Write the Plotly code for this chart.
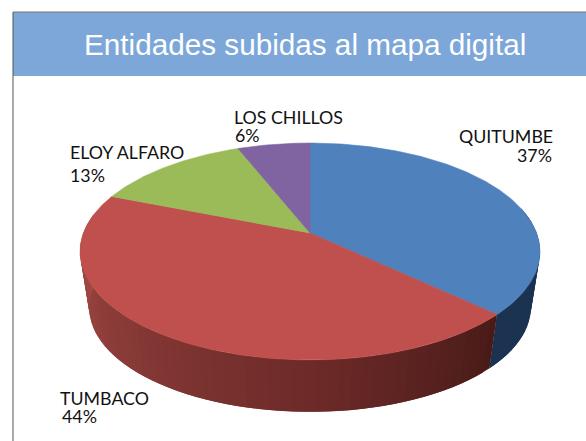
import math
import plotly.graph_objects as go

categories = ["QUITUMBE", "TUMBACO", "ELOY ALFARO", "LOS CHILLOS"]
values = [37, 44, 13, 6]
percent_labels = ["37%", "44%", "13%", "6%"]
title_text = "Entidades subidas al mapa digital"

top_colors = ["#4f81bd", "#c0504d", "#9bbb59", "#8064a2"]

# Projection of the tilted disc (circle seen in perspective)
CX, CY, A, B, K = 310.0, 233.0, 226.6, 105.3, 0.1705
WALL_SCALE, WALL_CY = 0.96, 290.0


def project(deg, scale=1.0, cy=CY):
    t = math.radians(deg)
    u, v = math.sin(t), -math.cos(t)
    w = 1 - K * v
    return CX + scale * A * u / w, cy + scale * B * v / w


def mix(c1, c2, f):
    return "rgb(%d,%d,%d)" % tuple(round(a + (b - a) * f) for a, b in zip(c1, c2))


fig = go.Figure()


def polygon(xs, ys, color, width=0.6):
    fig.add_trace(go.Scatter(
        x=xs, y=ys, mode="lines", fill="toself", fillcolor=color,
        line=dict(color=color, width=width), hoverinfo="skip", showlegend=False,
    ))


total = sum(values)
edges = [0.0]
for val in values:
    edges.append(edges[-1] + 360.0 * val / total)

WALL_START = 76.0
WALL_END = 280.0
WALL_STEP = 2.5


def wall_color(index, deg):
    if index == 0:
        return "rgb(27,51,80)"
    f = (deg - edges[1]) / (WALL_END - edges[1])
    dark, mid, light = (72, 27, 24), (110, 43, 41), (166, 76, 71)
    if f < 0.33:
        return mix(dark, mid, f / 0.33)
    return mix(mid, light, (f - 0.33) / 0.67)


# Side wall: each quad is two steps wide and the next quad paints over its
# second half, so no seams show between neighbouring bands.
for index in (0, 1):
    start = max(edges[index], WALL_START)
    end = min(edges[index + 1], WALL_END)
    count = max(1, int((end - start) / WALL_STEP))
    step = (end - start) / count
    for n in range(count):
        a0 = start + step * n
        a1 = min(a0 + 2 * step, end)
        p0, p1 = project(a0), project(a1)
        q0 = project(a0, WALL_SCALE, WALL_CY)
        q1 = project(a1, WALL_SCALE, WALL_CY)
        polygon([p0[0], p1[0], q1[0], q0[0], p0[0]],
                [p0[1], p1[1], q1[1], q0[1], p0[1]],
                wall_color(index, a0 + step / 2), width=0)

# Top face slices
for i, color in enumerate(top_colors):
    a0, a1 = edges[i], edges[i + 1]
    steps = max(4, int((a1 - a0) * 1.5))
    pts = [project(a0 + (a1 - a0) * s / steps) for s in range(steps + 1)]
    xs = [CX] + [p[0] for p in pts] + [CX]
    ys = [CY] + [p[1] for p in pts] + [CY]
    polygon(xs, ys, color)

label_layout = [
    (458, 136, "left", categories[0]),
    (553, 155, "right", percent_labels[0]),
    (59, 398, "left", categories[1]),
    (61, 416, "left", percent_labels[1]),
    (69, 152, "left", categories[2]),
    (69, 175, "left", percent_labels[2]),
    (233, 117, "left", categories[3]),
    (234, 135, "left", percent_labels[3]),
]
annotations = [
    dict(x=x, y=y, xref="x", yref="y", text=t, showarrow=False, xanchor=anc,
         yanchor="middle", borderpad=0,
         font=dict(family="Lato", size=17.8, color="#111111"))
    for x, y, anc, t in label_layout
]
annotations.append(dict(
    x=305, y=44, xref="x", yref="y", text=title_text, showarrow=False,
    xanchor="center", yanchor="middle",
    font=dict(family="Liberation Sans", size=29.7, color="white"),
))

shapes = [
    dict(type="rect", x0=13, x1=586, y0=12, y1=76, layer="below",
         fillcolor="#7da7d9", line=dict(width=0)),
    dict(type="line", x0=13, x1=13, y0=12, y1=441, layer="above",
         line=dict(color="#555555", width=1)),
    dict(type="line", x0=13, x1=586, y0=12, y1=12, layer="above",
         line=dict(color="#777777", width=1)),
]

fig.update_layout(
    width=586, height=441, margin=dict(l=0, r=0, t=0, b=0),
    paper_bgcolor="white", plot_bgcolor="white", showlegend=False,
    xaxis=dict(range=[0, 586], visible=False, fixedrange=True),
    yaxis=dict(range=[441, 0], visible=False, fixedrange=True),
    shapes=shapes, annotations=annotations,
)

fig.write_html("out.html", config={"displayModeBar": False},
               post_script="document.body.style.margin='0';")
